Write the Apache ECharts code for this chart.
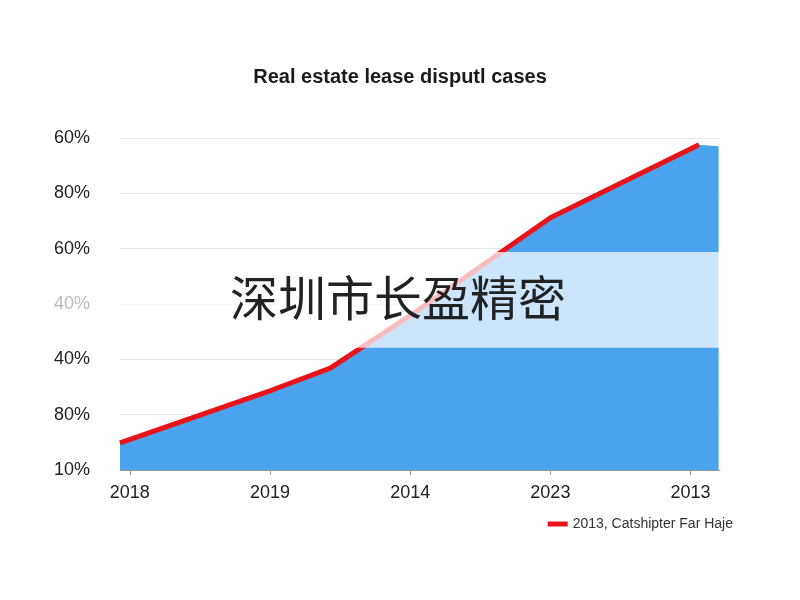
<!DOCTYPE html>
<html><head><meta charset="utf-8">
<script src="https://cdn.jsdelivr.net/npm/echarts@6/dist/echarts.min.js"></script>
<style>html,body{margin:0;background:#fff}#c{width:800px;height:600px}</style></head>
<body><div id="c"></div>
<script>
const xLabels = ['2018','2019','2014','2023','2013'];
const yLabels = ['10%','80%','40%','40%','60%','80%','60%'];
const lineX = [-0.07, 1.02, 1.43, 2.04, 3.0, 4.06];
const lineY = [0.49, 1.45, 1.84, 2.86, 4.56, 5.88];
const areaEnd = [4.2, 5.85];
const seriesName = '2013, Catshipter Far Haje';

const linePts = lineX.map((x,i)=>[x,lineY[i]]);
const areaPts = linePts.concat([areaEnd]);
const chart = echarts.init(document.getElementById('c'));
chart.setOption({
  animation:false,
  title:{text:'Real estate lease disputl cases',left:'center',top:62,textStyle:{fontFamily:'Liberation Sans',fontSize:20,fontWeight:'bold',color:'#1a1a1a'}},
  grid:{left:120,right:80,top:138,bottom:130},
  legend:{data:[seriesName],right:62,bottom:64,icon:'rect',itemWidth:20,itemHeight:5,textStyle:{fontFamily:'Liberation Sans',fontSize:14,color:'#333'}},
  xAxis:{type:'value',min:-0.07,max:4.21,splitLine:{show:false},
    axisLine:{lineStyle:{color:'#999'}},
    axisTick:{show:true,customValues:[0,1,2,3,4],lineStyle:{color:'#999'}},
    axisLabel:{customValues:[0,1,2,3,4],formatter:v=>xLabels[Math.round(v)],margin:14,fontFamily:'Liberation Sans',fontSize:18,color:'#222'}},
  yAxis:{type:'value',min:0,max:6,interval:1,axisLine:{show:false},axisTick:{show:false},
    splitLine:{lineStyle:{color:'#e6e6e6'}},
    axisLabel:{formatter:v=>v===3?'{f|'+yLabels[v]+'}':yLabels[v],rich:{f:{color:'#bbb',fontSize:18,fontFamily:'Liberation Sans'}},margin:30,fontFamily:'Liberation Sans',fontSize:18,color:'#222'}},
  series:[
    {type:'line',data:areaPts,symbol:'none',lineStyle:{width:0},areaStyle:{color:'#4aa3ec',opacity:1},z:1,silent:true,
     markArea:{silent:true,itemStyle:{color:'rgba(255,255,255,0.72)'},data:[[{coord:[-0.1,2.21]},{coord:[4.21,3.94]}]],z:5}},
    {name:seriesName,type:'line',data:linePts,symbol:'none',color:'#e8141a',lineStyle:{width:5,color:'#e8141a'},z:3}
  ],
  graphic:[{type:'text',left:230,top:274,z:100,style:{text:'深圳市长盈精密',font:'48px "Noto Sans CJK SC"',fill:'#222'}}]
});
</script></body></html>
